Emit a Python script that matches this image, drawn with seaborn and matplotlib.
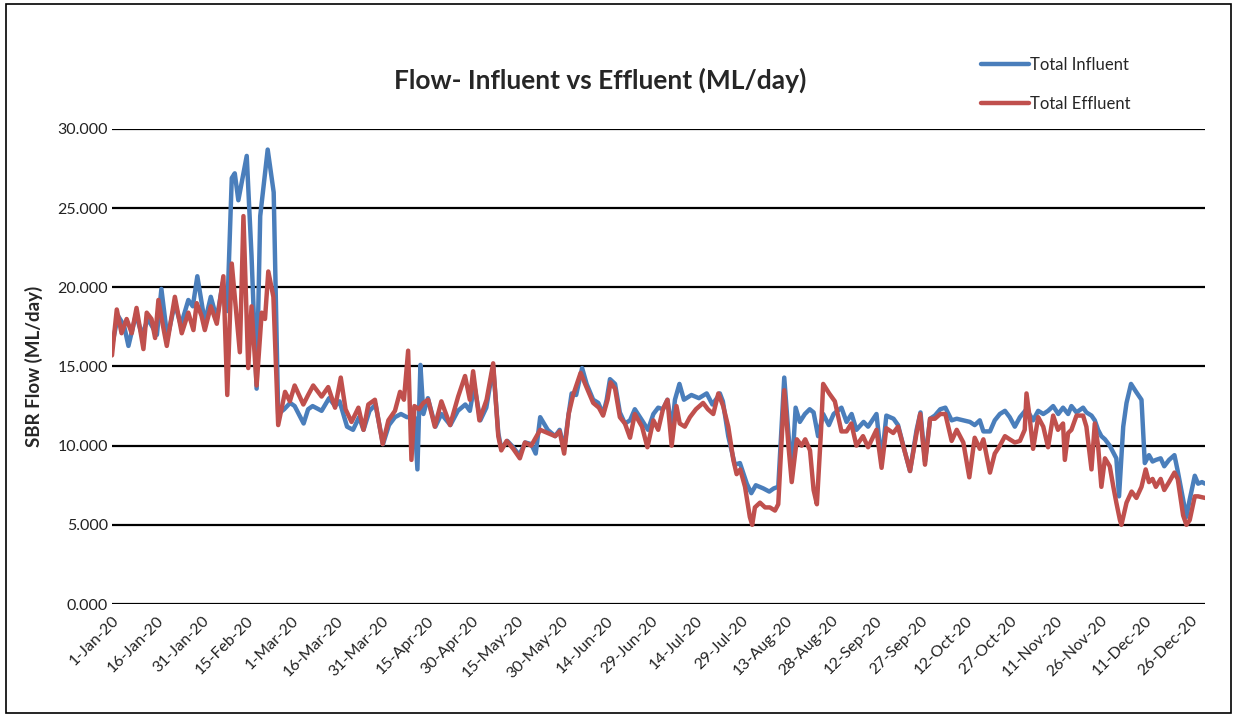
import pandas as pd
import matplotlib
matplotlib.use("Agg")
import matplotlib.pyplot as plt
import matplotlib.dates as mdates
from matplotlib.patches import Rectangle
from matplotlib.ticker import FormatStrFormatter
import seaborn as sns

# day offsets from 1-Jan-2020 and flow values (ML/day)
infl_days = [0, 2, 4, 5.5, 8, 10, 12, 15, 16.5, 18.5, 21, 23, 25.5, 27, 28.5, 31, 33, 35, 37, 38.5,
             40, 41, 42.2, 45, 46.6, 48.3, 49.5, 52, 54, 55.5, 57.5, 59.5, 61, 64, 65.5, 67, 70, 72.5,
             74.5, 76, 78.5, 80.5, 82.5, 84, 86, 88, 90.5, 92.5, 94.5, 96.5, 98.5, 101, 102, 103, 104,
             105.5, 108, 110, 113, 115.5, 118, 119.5, 121, 123, 125, 127.3, 129, 130, 132, 134, 136,
             138, 140, 141.5, 143, 145.5, 148, 149.5, 151, 152.5, 153.5, 155, 157, 158.5, 160.7, 162.4,
             164, 165.2, 166.3, 168, 169.6, 171.3, 173, 174.6, 177, 179, 180.8, 182.4, 184, 185.5, 187,
             188, 189.5, 191, 193.5, 196, 198.6, 200.5, 202, 203, 204, 205.8, 208, 209.7, 212, 213.5,
             215, 217.5, 219.5, 221, 222.5, 224.5, 225.8, 227, 228.3, 229.7, 231.4, 233, 234.3, 235.8,
             237.5, 239.4, 241, 243.6, 245.3, 247, 248.6, 251, 252.5, 255.3, 257, 258.6, 261, 262.5,
             264.8, 266.5, 268.7, 270, 271.5, 273.2, 274.8, 276.6, 278.3, 280.4, 282.1, 284.3, 286.5,
             288.1, 289.8, 291, 293.2, 294.8, 296.5, 298.2, 299.8, 301.5, 303.2, 305.4, 307.6, 309.3,
             311, 312.6, 314.3, 316, 317.6, 319.3, 320.4, 322.1, 324.3, 325.4, 327.1, 328.2, 329.3,
             330.4, 331.6, 333.2, 335.4, 336.3, 337.7, 338.8, 340.3, 342, 343.8, 344.9, 346.3, 347.5,
             348.6, 350.2, 351.4, 353, 354.8, 355.9, 357.7, 358.8, 359.9, 361.6, 362.7, 364, 365]
infl_vals = [16.3, 18.2, 17.6, 16.3, 18.3, 17.0, 18.0, 17.0, 19.9, 16.8, 19.0, 17.6, 19.2, 18.8, 20.7,
             17.8, 19.4, 18.0, 20.3, 18.5, 26.9, 27.2, 25.5, 28.3, 22.0, 13.6, 24.5, 28.7, 26.0, 12.0,
             12.3, 12.7, 12.5, 11.4, 12.3, 12.5, 12.2, 13.0, 12.5, 12.8, 11.2, 11.0, 11.8, 11.0, 12.2,
             12.6, 10.1, 11.3, 11.8, 12.0, 11.8, 11.8, 8.5, 15.1, 12.0, 13.0, 11.2, 12.0, 11.3, 12.2,
             12.6, 12.2, 13.8, 11.6, 12.4, 15.0, 10.8, 9.8, 10.3, 9.9, 9.4, 10.2, 10.1, 9.5, 11.8, 11.0,
             10.6, 11.0, 9.8, 12.0, 13.3, 13.2, 14.9, 13.9, 12.9, 12.7, 12.0, 12.9, 14.2, 13.9, 12.1,
             11.4, 11.6, 12.3, 11.6, 11.0, 12.0, 12.4, 12.3, 12.9, 11.0, 12.9, 13.9, 12.9, 13.2, 13.0,
             13.3, 12.6, 13.0, 13.3, 12.8, 10.6, 8.8, 8.9, 7.6, 7.0, 7.5, 7.3, 7.1, 7.3, 7.4, 14.3,
             11.0, 8.2, 12.4, 11.5, 12.0, 12.3, 12.1, 10.6, 12.0, 11.3, 12.0, 12.4, 11.5, 12.0, 11.0,
             11.5, 11.2, 12.0, 9.0, 11.9, 11.7, 11.3, 9.6, 8.4, 11.0, 12.1, 9.0, 11.7, 11.9, 12.3, 12.4,
             11.6, 11.7, 11.6, 11.5, 11.3, 11.6, 10.9, 10.9, 11.6, 12.0, 12.2, 11.8, 11.2, 11.8, 12.3,
             11.6, 12.2, 12.0, 12.2, 12.5, 12.0, 12.4, 12.0, 12.5, 12.1, 12.4, 12.1, 11.9, 11.6, 11.0,
             10.6, 10.4, 10.0, 9.2, 6.8, 11.2, 12.7, 13.9, 13.4, 12.9, 8.9, 9.4, 9.0, 9.1, 9.2, 8.7,
             9.1, 9.4, 8.4, 6.6, 5.5, 6.6, 8.1, 7.6, 7.7, 7.6]

effl_days = [0, 1.6, 3.2, 4.9, 6.6, 8.2, 10.5, 11.6, 13.2, 14.4, 15.5, 16.6, 18.3, 21, 23.3, 25.5, 27.2,
             28.3, 29.9, 31, 33, 35, 37.2, 38.5, 40, 41.3, 42.7, 43.9, 45.5, 46.6, 48.3, 50, 51.1, 52.2,
             53.9, 55.5, 57.8, 59.4, 61, 63.9, 65.5, 67.2, 70, 72.2, 74.5, 76.4, 78, 80, 82.3, 84, 85.6,
             87.8, 90.4, 92.3, 94.5, 96.2, 97.5, 98.9, 100, 101, 102.5, 104, 105.6, 107.8, 110, 112.9,
             115.6, 117.9, 119.5, 120.6, 122.7, 125.1, 127.3, 129, 130, 131.8, 134, 136.2, 137.9, 140,
             143, 145.5, 148, 149.5, 151, 152.5, 154, 156.5, 158, 160.7, 162.6, 164, 165.5, 166.5, 168,
             169.6, 171.3, 173, 174.6, 177, 178.8, 180.8, 182.4, 184, 185.5, 186.9, 188.5, 189.6, 191.3,
             193, 195, 197.4, 199, 200.8, 202.5, 204.1, 205.8, 207.5, 208.6, 209.8, 211.4, 213, 213.8,
             214.7, 216.4, 218.1, 219.7, 221.4, 222.5, 224.5, 225.9, 227, 228.7, 230.3, 231.5, 233.1,
             234.3, 235.4, 236.8, 237.5, 239.5, 241.4, 243.6, 245.3, 246.9, 248.6, 250.8, 252.5, 255.3,
             257, 258.6, 260.9, 262.5, 264.8, 266.5, 268.7, 269.9, 271.5, 273.2, 274.8, 276.6, 278.3,
             280.4, 282.1, 284.3, 286.3, 288.1, 289.8, 291, 293.2, 294.8, 296.5, 298.2, 299.8, 301.5,
             303.2, 304.8, 305.4, 306.5, 307.6, 309.3, 311, 312.6, 314.3, 315.9, 317.6, 318.2, 319.3,
             320.4, 322.1, 324.3, 325.4, 327.1, 328.2, 329.3, 330.4, 331.6, 333.2, 334.4, 335.4, 336.6,
             337.1, 338.8, 340.5, 342.1, 343.8, 345.2, 346.3, 347.5, 348.6, 350.2, 351.4, 353, 354.8,
             355.9, 357.7, 358.8, 359.9, 361.6, 362.7, 365]
effl_vals = [15.7, 18.6, 17.1, 18.0, 17.1, 18.7, 16.1, 18.4, 18.0, 16.8, 19.2, 18.0, 16.3, 19.4, 17.1,
             18.4, 17.3, 19.0, 18.2, 17.3, 18.8, 17.7, 20.7, 13.2, 21.5, 18.8, 15.9, 24.5, 14.9, 18.8,
             13.8, 18.4, 18.0, 21.0, 19.4, 11.3, 13.4, 12.8, 13.8, 12.6, 13.2, 13.8, 13.1, 13.7, 12.4,
             14.3, 12.3, 11.5, 12.4, 11.0, 12.6, 12.9, 10.1, 11.6, 12.2, 13.4, 12.9, 16.0, 9.1, 12.5,
             12.3, 12.7, 12.9, 11.2, 12.8, 11.3, 13.1, 14.4, 12.9, 14.7, 11.6, 12.9, 15.2, 10.6, 9.7,
             10.3, 9.8, 9.2, 10.2, 10.0, 11.0, 10.8, 10.6, 10.9, 9.5, 12.0, 13.2, 14.6, 13.9, 12.7,
             12.4, 11.9, 12.9, 14.0, 13.6, 11.8, 11.4, 10.5, 12.0, 11.2, 9.9, 11.6, 11.0, 12.3, 12.9,
             10.0, 12.5, 11.4, 11.2, 11.8, 12.3, 12.7, 12.3, 12.0, 13.3, 12.5, 11.2, 9.1, 8.2, 8.5, 7.4,
             5.5, 5.0, 6.1, 6.4, 6.1, 6.1, 5.9, 6.3, 13.5, 10.0, 7.7, 10.4, 10.0, 10.4, 9.7, 7.2, 6.3,
             11.0, 13.9, 13.3, 12.8, 10.9, 10.9, 11.4, 10.0, 10.6, 9.9, 11.0, 8.6, 11.1, 10.8, 11.2,
             9.6, 8.4, 10.8, 12.0, 8.8, 11.7, 11.7, 12.0, 12.0, 10.3, 11.0, 10.2, 8.0, 10.5, 9.8, 10.4,
             8.3, 9.5, 10.0, 10.6, 10.4, 10.2, 10.3, 11.0, 13.3, 11.7, 9.8, 11.8, 11.2, 9.9, 11.9, 11.0,
             11.4, 9.1, 10.8, 11.0, 11.9, 11.9, 11.2, 8.5, 11.4, 10.0, 7.4, 9.2, 8.7, 7.4, 6.4, 5.3,
             5.0, 6.4, 7.1, 6.7, 7.4, 8.5, 7.7, 7.9, 7.4, 7.9, 7.2, 7.7, 8.3, 7.9, 5.6, 5.0, 5.3, 6.8,
             6.8, 6.7]

series_names = ["Total Influent", "Total Effluent"]
colors = ["#4A7EBB", "#C0504D"]

start = pd.Timestamp("2020-01-01")
df = pd.concat([
    pd.DataFrame({"date": start + pd.to_timedelta(infl_days, unit="D"),
                  "flow": infl_vals, "series": series_names[0]}),
    pd.DataFrame({"date": start + pd.to_timedelta(effl_days, unit="D"),
                  "flow": effl_vals, "series": series_names[1]}),
])

sns.set_style("white")
plt.rcParams["font.family"] = ["Lato", "DejaVu Sans"]

fig = plt.figure(figsize=(12.36, 7.17), dpi=100)
ax = fig.add_axes([0.0906, 0.1576, 0.8843, 0.6625])

sns.lineplot(data=df, x="date", y="flow", hue="series", hue_order=series_names,
             palette=colors, linewidth=3.2, ax=ax, legend=False, estimator=None)

ax.set_ylim(0, 30)
ax.set_yticks(range(0, 31, 5))
ax.yaxis.set_major_formatter(FormatStrFormatter("%.3f"))
ax.set_xlim(start, pd.Timestamp("2020-12-31"))
ax.set_xticks(pd.date_range(start, "2020-12-31", freq="15D"))
ax.xaxis.set_major_formatter(mdates.DateFormatter("%-d-%b-%y"))
plt.setp(ax.get_xticklabels(), rotation=45, ha="right", rotation_mode="anchor")
ax.tick_params(axis="both", length=0, labelsize=11.5, colors="#222222")
ax.tick_params(axis="x", pad=7)
ax.tick_params(axis="y", pad=3)

ax.yaxis.grid(True, color="black", linewidth=1.6)
ax.set_axisbelow(True)
for s in ax.spines.values():
    s.set_visible(False)

ax.set_xlabel("")
ax.set_ylabel("SBR Flow (ML/day)", fontsize=13.5, fontweight="bold", labelpad=10)

fig.text(600 / 1236, 1 - 80 / 717, "Flow- Influent vs Effluent (ML/day)",
         fontsize=19, fontweight="bold", ha="center", va="center")

fig.legend(handles=ax.get_lines()[:2], labels=series_names, loc="upper left",
           bbox_to_anchor=(966 / 1236, 1 - 42 / 717), frameon=False, fontsize=12,
           handlelength=2.9, handletextpad=0.05, labelspacing=1.35)

fig.patches.append(Rectangle((0.005, 0.006), 0.991, 0.988, transform=fig.transFigure,
                             fill=False, edgecolor="black", linewidth=1.2))

plt.savefig("out.png", dpi=100)
